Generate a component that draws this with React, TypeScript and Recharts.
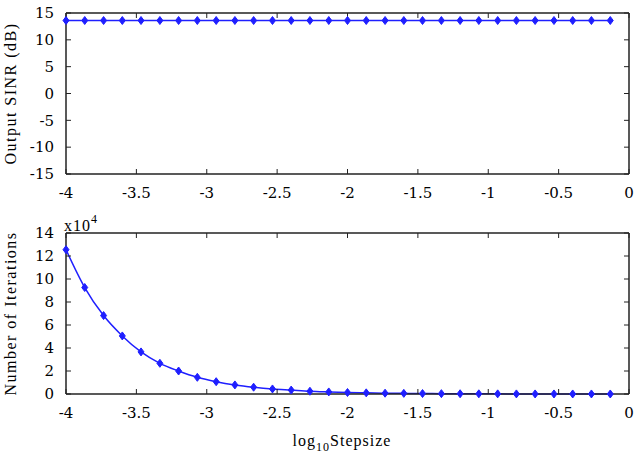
import React from "react"
import { LineChart, Line, XAxis, YAxis } from "recharts"

// log10 of the step size (x positions of the markers)
const logStep = [
  -4, -3.867, -3.733, -3.6, -3.467, -3.333, -3.2, -3.067, -2.933, -2.8,
  -2.667, -2.533, -2.4, -2.267, -2.133, -2, -1.867, -1.733, -1.6, -1.467,
  -1.333, -1.2, -1.067, -0.933, -0.8, -0.667, -0.533, -0.4, -0.267, -0.133,
]

const sinrDb = [
  13.6, 13.6, 13.6, 13.6, 13.6, 13.6, 13.6, 13.6, 13.6, 13.6,
  13.6, 13.6, 13.6, 13.6, 13.6, 13.6, 13.6, 13.6, 13.6, 13.6,
  13.6, 13.6, 13.6, 13.6, 13.6, 13.6, 13.6, 13.6, 13.6, 13.6,
]

const iterations = [
  125500, 92600, 68200, 50500, 36600, 26700, 20000, 14500, 10700, 7900,
  5900, 4400, 3400, 2400, 1800, 1300, 1000, 700, 550, 400,
  300, 220, 160, 120, 90, 70, 50, 40, 30, 20,
]

const xTicks = [-4, -3.5, -3, -2.5, -2, -1.5, -1, -0.5, 0]
const sinrTicks = [-15, -10, -5, 0, 5, 10, 15]
const iterTicks = [0, 20000, 40000, 60000, 80000, 100000, 120000, 140000]

const sinrData = logStep.map((x, i) => ({ x, y: sinrDb[i] }))
const iterData = logStep.map((x, i) => ({ x, y: iterations[i] }))

const TICK_FONT = "DejaVu Serif"
const FONT = "Liberation Serif"
const BLUE = "#1f1fff"
const AXIS = "#222"

const tickStyle = { fill: "#000", fontSize: 15, fontFamily: TICK_FONT }
const noTick = (p: any) => <g key={p.index} />

const Diamond = (props: any) => {
  const { cx, cy, index } = props
  if (cx == null || cy == null) return <g key={index} />
  return (
    <polygon
      key={index}
      points={`${cx},${cy - 4} ${cx + 3},${cy} ${cx},${cy + 4} ${cx - 3},${cy}`}
      fill={BLUE}
      stroke={BLUE}
      strokeWidth={1}
    />
  )
}

const yLabel = (text: string) => (props: any) => {
  const vb = props.viewBox || {}
  const cy = vb.y + vb.height / 2
  return (
    <text
      x={10}
      y={cy}
      transform={`rotate(-90, 10, ${cy})`}
      textAnchor="middle"
      dominantBaseline="central"
      fontFamily={FONT}
      fontSize={16}
      letterSpacing={1.5}
      fill="#000"
    >
      {text}
    </text>
  )
}

export default function App() {
  return (
    <div style={{ position: "absolute", left: 0, top: 0, width: 634, height: 455, background: "#fff" }}>
      <div style={{ position: "absolute", left: 0, top: 0 }}>
        <LineChart width={634} height={210} data={sinrData} margin={{ top: 12, right: 4, left: 0, bottom: 6 }}>
          <XAxis
            type="number"
            dataKey="x"
            domain={[-4, 0]}
            ticks={xTicks}
            interval={0}
            height={30}
            tick={tickStyle}
            tickSize={-5}
            tickMargin={18}
            axisLine={{ stroke: AXIS, strokeWidth: 1.5 }}
            tickLine={{ stroke: AXIS }}
          />
          <XAxis
            xAxisId="top"
            orientation="top"
            type="number"
            dataKey="x"
            domain={[-4, 0]}
            ticks={xTicks}
            interval={0}
            height={1}
            tick={noTick}
            tickSize={-5}
            axisLine={{ stroke: AXIS, strokeWidth: 1.5 }}
            tickLine={{ stroke: AXIS }}
          />
          <YAxis
            type="number"
            domain={[-15, 15]}
            ticks={sinrTicks}
            interval={0}
            width={66}
            tick={tickStyle}
            tickSize={-5}
            tickMargin={17}
            axisLine={{ stroke: AXIS, strokeWidth: 1.5 }}
            tickLine={{ stroke: AXIS }}
            label={{ content: yLabel("Output SINR (dB)") }}
          />
          <YAxis
            yAxisId="right"
            orientation="right"
            type="number"
            domain={[-15, 15]}
            ticks={sinrTicks}
            interval={0}
            width={1}
            tick={noTick}
            tickSize={-5}
            axisLine={{ stroke: AXIS, strokeWidth: 1.5 }}
            tickLine={{ stroke: AXIS }}
          />
          <Line
            xAxisId="top"
            yAxisId="right"
            dataKey="y"
            stroke="none"
            dot={false}
            activeDot={false}
            isAnimationActive={false}
          />
          <Line
            type="linear"
            dataKey="y"
            stroke={BLUE}
            strokeWidth={1.5}
            dot={Diamond}
            activeDot={false}
            isAnimationActive={false}
          />
        </LineChart>
      </div>
      <div style={{ position: "absolute", left: 0, top: 210 }}>
        <LineChart width={634} height={245} data={iterData} margin={{ top: 22, right: 4, left: 0, bottom: 0 }}>
          <XAxis
            type="number"
            dataKey="x"
            domain={[-4, 0]}
            ticks={xTicks}
            interval={0}
            height={61}
            tick={tickStyle}
            tickSize={-5}
            tickMargin={18}
            axisLine={{ stroke: AXIS, strokeWidth: 1.5 }}
            tickLine={{ stroke: AXIS }}
            label={{
              content: (props: any) => {
                const vb = props.viewBox || {}
                return (
                  <text x={342} y={vb.y + 52} textAnchor="middle" fontFamily={FONT} fontSize={16} letterSpacing={1} fill="#000">
                    log
                    <tspan fontSize={12} dy={5}>10</tspan>
                    <tspan dy={-5}>Stepsize</tspan>
                  </text>
                )
              },
            }}
          />
          <XAxis
            xAxisId="top"
            orientation="top"
            type="number"
            dataKey="x"
            domain={[-4, 0]}
            ticks={xTicks}
            interval={0}
            height={1}
            tick={noTick}
            tickSize={-5}
            axisLine={{ stroke: AXIS, strokeWidth: 1.5 }}
            tickLine={{ stroke: AXIS }}
          />
          <YAxis
            type="number"
            domain={[0, 140000]}
            ticks={iterTicks}
            interval={0}
            width={66}
            tick={tickStyle}
            tickFormatter={(v: number) => String(v / 10000)}
            tickSize={-5}
            tickMargin={17}
            axisLine={{ stroke: AXIS, strokeWidth: 1.5 }}
            tickLine={{ stroke: AXIS }}
            label={{
              content: (props: any) => {
                const vb = props.viewBox || {}
                return (
                  <g>
                    {yLabel("Number of Iterations")(props)}
                    <text x={64} y={vb.y - 2} fontFamily={FONT} fontSize={16} letterSpacing={1} fill="#000">
                      x10
                      <tspan fontSize={12} dy={-8}>4</tspan>
                    </text>
                  </g>
                )
              },
            }}
          />
          <YAxis
            yAxisId="right"
            orientation="right"
            type="number"
            domain={[0, 140000]}
            ticks={iterTicks}
            interval={0}
            width={1}
            tick={noTick}
            tickSize={-5}
            axisLine={{ stroke: AXIS, strokeWidth: 1.5 }}
            tickLine={{ stroke: AXIS }}
          />
          <Line
            xAxisId="top"
            yAxisId="right"
            dataKey="y"
            stroke="none"
            dot={false}
            activeDot={false}
            isAnimationActive={false}
          />
          <Line
            type="monotone"
            dataKey="y"
            stroke={BLUE}
            strokeWidth={1.5}
            dot={Diamond}
            activeDot={false}
            isAnimationActive={false}
          />
        </LineChart>
      </div>
    </div>
  )
}
